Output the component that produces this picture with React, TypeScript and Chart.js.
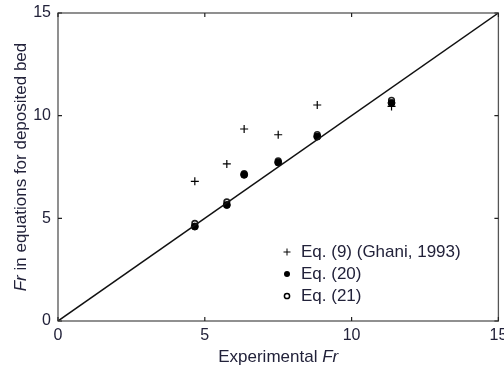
import React, { useEffect, useRef } from "react";
import { Chart, registerables } from "chart.js";

Chart.register(...registerables);

const experimentalFr = [4.66, 5.75, 6.34, 7.5, 8.83, 11.36];
const eq9Ghani = [6.8, 7.65, 9.35, 9.07, 10.52, 10.45];
const eq20 = [4.6, 5.65, 7.12, 7.72, 8.98, 10.62];
const eq21 = [4.75, 5.8, 7.18, 7.8, 9.08, 10.75];
const lineX = [0, 15];
const tickValues = [0, 5, 10, 15];
const legendLabels = ["Eq. (9) (Ghani, 1993)", "Eq. (20)", "Eq. (21)"];

const TEXT = "#22223a";
const FONT = "Liberation Sans, Arial, sans-serif";
const TS = 17;

const framePlugin = {
  id: "frame",
  afterDraw(chart: any) {
    const { ctx, chartArea: a, scales } = chart;
    const xs = scales.x;
    const ys = scales.y;
    ctx.save();
    ctx.strokeStyle = "#555";
    ctx.lineWidth = 1.3;
    ctx.strokeRect(a.left, a.top, a.right - a.left, a.bottom - a.top);
    ctx.strokeStyle = "#222";
    ctx.lineWidth = 1.2;
    const tl = 4;
    tickValues.forEach((v) => {
      const px = xs.getPixelForValue(v);
      const py = ys.getPixelForValue(v);
      ctx.beginPath();
      ctx.moveTo(px, a.bottom);
      ctx.lineTo(px, a.bottom - tl);
      ctx.moveTo(px, a.top);
      ctx.lineTo(px, a.top + tl);
      ctx.moveTo(a.left, py);
      ctx.lineTo(a.left + tl, py);
      ctx.moveTo(a.right, py);
      ctx.lineTo(a.right - tl, py);
      ctx.stroke();
    });

    // axis titles
    ctx.fillStyle = TEXT;
    ctx.textBaseline = "middle";
    const xTitleY = 357;
    const xTitleCx = (a.left + a.right) / 2;
    const p1 = "Experimental ";
    ctx.font = `${TS}px ${FONT}`;
    const w1 = ctx.measureText(p1).width;
    ctx.font = `italic ${TS}px ${FONT}`;
    const w2 = ctx.measureText("Fr").width;
    const sx = xTitleCx - (w1 + w2) / 2;
    ctx.textAlign = "left";
    ctx.font = `${TS}px ${FONT}`;
    ctx.fillText(p1, sx, xTitleY);
    ctx.font = `italic ${TS}px ${FONT}`;
    ctx.fillText("Fr", sx + w1, xTitleY);

    ctx.save();
    ctx.translate(21, (a.top + a.bottom) / 2);
    ctx.rotate(-Math.PI / 2);
    ctx.font = `italic ${TS}px ${FONT}`;
    const yA = "Fr";
    const wa = ctx.measureText(yA).width;
    ctx.font = `${TS}px ${FONT}`;
    const yB = " in equations for deposited bed";
    const wb = ctx.measureText(yB).width;
    const start = -(wa + wb) / 2;
    ctx.font = `italic ${TS}px ${FONT}`;
    ctx.fillText(yA, start, 0);
    ctx.font = `${TS}px ${FONT}`;
    ctx.fillText(yB, start + wa, 0);
    ctx.restore();

    // legend
    const lx = a.left + 229;
    const ly0 = a.top + 239;
    const gap = 22;
    ctx.font = `${TS}px ${FONT}`;
    legendLabels.forEach((lab, i) => {
      const y = ly0 + i * gap;
      ctx.fillStyle = TEXT;
      ctx.fillText(lab, lx + 14, y);
      ctx.strokeStyle = "#000";
      ctx.fillStyle = "#000";
      ctx.lineWidth = 1;
      if (i === 0) {
        ctx.beginPath();
        ctx.moveTo(lx - 3.5, y);
        ctx.lineTo(lx + 3.5, y);
        ctx.moveTo(lx, y - 3.5);
        ctx.lineTo(lx, y + 3.5);
        ctx.stroke();
      } else if (i === 1) {
        ctx.beginPath();
        ctx.arc(lx, y, 3, 0, Math.PI * 2);
        ctx.fill();
      } else {
        ctx.lineWidth = 1.5;
        ctx.beginPath();
        ctx.arc(lx, y, 2.6, 0, Math.PI * 2);
        ctx.stroke();
      }
    });
    ctx.restore();
  },
};

export default function App() {
  const ref = useRef<HTMLCanvasElement>(null);
  useEffect(() => {
    if (!ref.current) return;
    const pts = (ys: number[]) => experimentalFr.map((x, i) => ({ x, y: ys[i] }));
    const chart = new Chart(ref.current, {
      type: "scatter",
      data: {
        datasets: [
          {
            label: "y=x",
            data: lineX.map((v) => ({ x: v, y: v })),
            showLine: true,
            borderColor: "#111",
            borderWidth: 1.5,
            pointRadius: 0,
            fill: false,
          } as any,
          {
            label: legendLabels[0],
            data: pts(eq9Ghani),
            pointStyle: "cross",
            pointRadius: 4,
            borderColor: "#000",
            borderWidth: 1.2,
          },
          {
            label: legendLabels[1],
            data: pts(eq20),
            pointStyle: "circle",
            pointRadius: 3.5,
            backgroundColor: "#000",
            borderColor: "#000",
            borderWidth: 1,
          },
          {
            label: legendLabels[2],
            data: pts(eq21),
            pointStyle: "circle",
            pointRadius: 2.8,
            backgroundColor: "rgba(0,0,0,0)",
            borderColor: "#222",
            borderWidth: 1.6,
          },
        ],
      },
      options: {
        animation: false,
        responsive: false,
        events: [],
        layout: { padding: { left: 0, top: 13, right: 5, bottom: 0 } },
        plugins: { legend: { display: false }, tooltip: { enabled: false } },
        scales: {
          x: {
            type: "linear",
            min: 0,
            max: 15,
            afterBuildTicks: (s: any) => {
              s.ticks = tickValues.map((v) => ({ value: v }));
            },
            afterFit: (s: any) => {
              s.height = 47;
              s.paddingLeft = 0;
              s.paddingRight = 0;
            },
            grid: { display: false, drawTicks: false },
            border: { display: false },
            ticks: {
              color: TEXT,
              font: { family: FONT, size: 16 },
              padding: 5,
              maxRotation: 0,
            },
          },
          y: {
            type: "linear",
            min: 0,
            max: 15,
            afterBuildTicks: (s: any) => {
              s.ticks = tickValues.map((v) => ({ value: v }));
            },
            afterFit: (s: any) => {
              s.width = 58;
              s.paddingTop = 0;
              s.paddingBottom = 0;
            },
            grid: { display: false, drawTicks: false },
            border: { display: false },
            ticks: {
              color: TEXT,
              font: { family: FONT, size: 16 },
              padding: 7,
            },
          },
        },
      },
      plugins: [framePlugin],
    });
    return () => chart.destroy();
  }, []);
  return (
    <div style={{ position: "fixed", left: 0, top: 0, width: 504, height: 368, background: "#fff" }}>
      <canvas ref={ref} width={504} height={368} style={{ width: 504, height: 368 }} />
    </div>
  );
}
